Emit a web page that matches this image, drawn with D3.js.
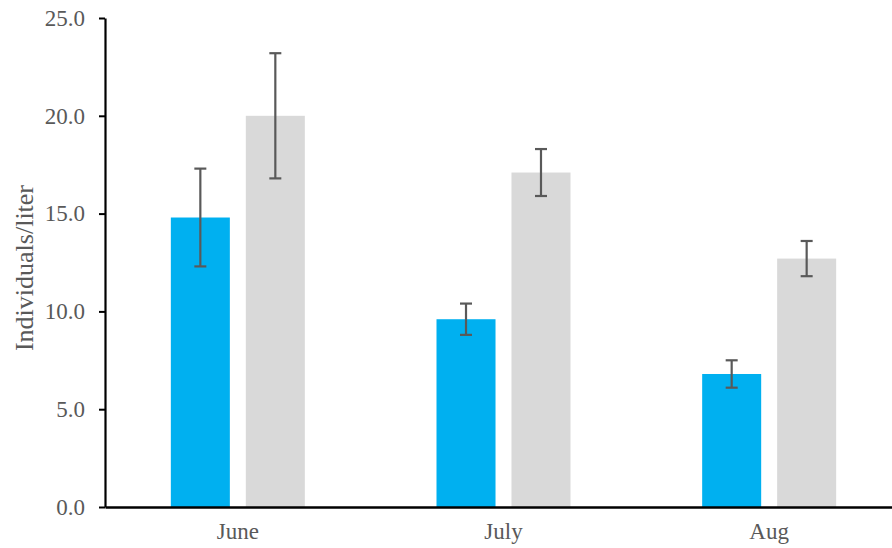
<!DOCTYPE html>
<html>
<head>
<meta charset="utf-8">
<script src="https://cdn.jsdelivr.net/npm/d3@7/dist/d3.min.js"></script>
<style>
  html, body { margin: 0; padding: 0; background: #fff; }
  svg { display: block; }
</style>
</head>
<body>
<svg id="chart" width="892" height="548"></svg>
<script>
const months = ["June", "July", "Aug"];
const seriesNames = ["Series A", "Series B"];
const valuesA = [14.8, 9.6, 6.8];
const valuesB = [20.0, 17.1, 12.7];
const errLowA = [12.3, 8.8, 6.1];
const errHighA = [17.3, 10.4, 7.5];
const errLowB = [16.8, 15.9, 11.8];
const errHighB = [23.2, 18.3, 13.6];
const yTicks = [0, 5, 10, 15, 20, 25];
const colors = ["#00B0F0", "#D9D9D9"];

const svg = d3.select("#chart");
const plotLeft = 105, plotRight = 902, plotTop = 18, plotBottom = 507;

const y = d3.scaleLinear().domain([0, 25]).range([plotBottom, plotTop]);
const x0 = d3.scaleBand().domain(months).range([plotLeft, plotRight]).padding(0);
const groupW = 134;
const x1 = d3.scaleBand().domain(seriesNames).range([0, groupW]).paddingInner(0.213).paddingOuter(0);

const rows = months.map((m, i) => ({
  month: m,
  items: [
    { s: seriesNames[0], v: valuesA[i], lo: errLowA[i], hi: errHighA[i], c: colors[0] },
    { s: seriesNames[1], v: valuesB[i], lo: errLowB[i], hi: errHighB[i], c: colors[1] }
  ]
}));

const groups = svg.append("g").selectAll("g").data(rows).join("g")
  .attr("transform", d => `translate(${x0(d.month) + x0.bandwidth() / 2 - groupW / 2},0)`);

groups.selectAll("rect").data(d => d.items).join("rect")
  .attr("x", d => x1(d.s))
  .attr("width", x1.bandwidth())
  .attr("y", d => y(d.v))
  .attr("height", d => y(0) - y(d.v))
  .attr("fill", d => d.c);

const eb = groups.selectAll("g.err").data(d => d.items).join("g").attr("class", "err")
  .attr("stroke", "#595959").attr("stroke-width", 2.2);
eb.append("line")
  .attr("x1", d => x1(d.s) + x1.bandwidth() / 2).attr("x2", d => x1(d.s) + x1.bandwidth() / 2)
  .attr("y1", d => y(d.lo)).attr("y2", d => y(d.hi));
eb.append("line")
  .attr("x1", d => x1(d.s) + x1.bandwidth() / 2 - 6).attr("x2", d => x1(d.s) + x1.bandwidth() / 2 + 6)
  .attr("y1", d => y(d.lo)).attr("y2", d => y(d.lo));
eb.append("line")
  .attr("x1", d => x1(d.s) + x1.bandwidth() / 2 - 6).attr("x2", d => x1(d.s) + x1.bandwidth() / 2 + 6)
  .attr("y1", d => y(d.hi)).attr("y2", d => y(d.hi));

const font = "'Liberation Serif', 'Times New Roman', serif";

const yAxis = svg.append("g").attr("transform", `translate(${plotLeft},0)`)
  .call(d3.axisLeft(y).tickValues(yTicks).tickFormat(d3.format(".1f")).tickSize(6).tickSizeOuter(0).tickPadding(14));
yAxis.select(".domain").attr("stroke", "#000").attr("stroke-width", 2.2);
yAxis.selectAll(".tick line").attr("stroke", "#000").attr("stroke-width", 2);
yAxis.selectAll(".tick text").attr("fill", "#595959").attr("font-family", font).attr("font-size", 23);

const xAxis = svg.append("g").attr("transform", `translate(0,${plotBottom})`)
  .call(d3.axisBottom(x0).tickSize(0).tickPadding(16));
xAxis.select(".domain").attr("stroke", "#000").attr("stroke-width", 2.5);
xAxis.selectAll(".tick text").attr("fill", "#595959").attr("font-family", font).attr("font-size", 23);

svg.append("text")
  .attr("transform", "rotate(-90)")
  .attr("x", -268).attr("y", 33)
  .attr("text-anchor", "middle")
  .attr("fill", "#595959")
  .attr("font-family", font).attr("font-size", 26)
  .text("Individuals/liter");
</script>
</body>
</html>
